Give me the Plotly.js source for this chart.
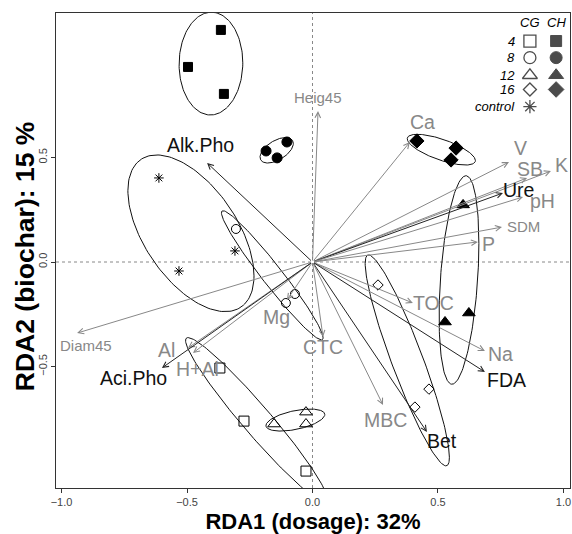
<!DOCTYPE html>
<html><head><meta charset="utf-8">
<script src="https://cdn.plot.ly/plotly-3.0.1.min.js"></script>
<style>html,body{margin:0;padding:0;background:#fff}#chart{width:572px;height:534px}</style>
</head><body><div id="chart"></div>
<script>
// ---- site scores (RDA1, RDA2) ----
const cg4X = [-0.369, -0.273, -0.026],  cg4Y = [-0.507, -0.761, -1.000];
const cg8X = [-0.305, -0.070, -0.106],  cg8Y = [0.158, -0.153, -0.196];
const cg12X = [-0.026, -0.026, -0.153], cg12Y = [-0.718, -0.775, -0.775];
const cg16X = [0.261, 0.464, 0.408],    cg16Y = [-0.110, -0.608, -0.694];
const ctrlX = [-0.612, -0.309, -0.532], ctrlY = [0.402, 0.053, -0.043];
const ch4X = [-0.365, -0.496, -0.353],  ch4Y = [1.110, 0.933, 0.804];
const ch8X = [-0.185, -0.102, -0.141],  ch8Y = [0.531, 0.574, 0.498];
const ch12X = [0.600, 0.528, 0.623],    ch12Y = [0.273, -0.287, -0.244];
const ch16X = [0.416, 0.572, 0.552],    ch16Y = [0.579, 0.545, 0.488];

// ---- environmental vectors (biplot arrow tips) ----
const envNames = ['Heig45','Alk.Pho','Ca','V','SB','K','Ure','pH','SDM','P','TOC','Na','FDA','Bet','MBC','CTC','Mg','Al','H+Al','Aci.Pho','Diam45'];
const envX = [0.022, -0.420, 0.388, 0.783, 0.855, 0.950, 0.759, 0.839, 0.755, 0.659, 0.400, 0.687, 0.687, 0.456, 0.281, 0.042, -0.102, -0.496, -0.476, -0.600, -0.938];
const envY = [0.722, 0.474, 0.574, 0.478, 0.402, 0.435, 0.330, 0.311, 0.167, 0.096, -0.196, -0.426, -0.526, -0.813, -0.684, -0.359, -0.182, -0.411, -0.435, -0.507, -0.340];

// legend
const legendRows = ['4', '8', '12', '16', 'control'];
const legendCols = ['CG', 'CH'];
const xTitle = 'RDA1 (dosage): 32%';
const yTitle = 'RDA2 (biochar): 15 %';

// ---- styling (not data) ----
const darkVars = ['Alk.Pho', 'Ure', 'FDA', 'Bet', 'Aci.Pho'];
const smallVars = ['Heig45', 'SDM', 'Diam45'];
const labelShift = { // pixel offsets of labels from arrow tips [dx, dy-up]
  'Heig45':[0,14], 'Alk.Pho':[-7,18], 'Ca':[13,20], 'V':[11,14], 'SB':[3,9], 'K':[11,6],
  'Ure':[16,3], 'pH':[19,-4], 'SDM':[22,1], 'P':[11,-2], 'TOC':[21,0], 'Na':[16,-3],
  'FDA':[22,-8], 'Bet':[15,-9], 'MBC':[2,-15], 'CTC':[0,-10], 'Mg':[-10,-17], 'Al':[-22,-2],
  'H+Al':[4,-16], 'Aci.Pho':[-28,-10], 'Diam45':[9,-12]
};
const GRAY = '#888888', DARK = '#111111';
const FONT = 'Liberation Sans, Arial, Helvetica, sans-serif';
const T = 1.6;

function ellipse(xs, ys, t) {
  const n = xs.length;
  const mx = xs.reduce((a, b) => a + b, 0) / n, my = ys.reduce((a, b) => a + b, 0) / n;
  let sxx = 0, syy = 0, sxy = 0;
  for (let i = 0; i < n; i++) { const dx = xs[i] - mx, dy = ys[i] - my; sxx += dx * dx; syy += dy * dy; sxy += dx * dy; }
  sxx /= (n - 1); syy /= (n - 1); sxy /= (n - 1);
  const a = Math.sqrt(sxx), b = sxy / a, c = Math.sqrt(Math.max(syy - b * b, 0));
  const ex = [], ey = [];
  for (let k = 0; k <= 160; k++) {
    const th = 2 * Math.PI * k / 160, co = Math.cos(th), si = Math.sin(th);
    ex.push(mx + t * a * co); ey.push(my + t * (b * co + c * si));
  }
  return { x: ex, y: ey };
}

const groups = [
  { x: cg4X, y: cg4Y, sym: 'square-open', size: 10 },
  { x: cg8X, y: cg8Y, sym: 'circle-open', size: 9 },
  { x: cg12X, y: cg12Y, sym: 'triangle-up-open', size: 11 },
  { x: cg16X, y: cg16Y, sym: 'diamond-open', size: 8 },
  { x: ctrlX, y: ctrlY, sym: 'asterisk-open', size: 8 },
  { x: ch4X, y: ch4Y, sym: 'square', size: 9 },
  { x: ch8X, y: ch8Y, sym: 'circle', size: 10 },
  { x: ch12X, y: ch12Y, sym: 'triangle-up', size: 11 },
  { x: ch16X, y: ch16Y, sym: 'diamond', size: 11 }
];

const traces = [];
groups.forEach(g => {
  const e = ellipse(g.x, g.y, T);
  traces.push({ x: e.x, y: e.y, mode: 'lines', line: { color: '#111', width: 1 }, hoverinfo: 'skip', showlegend: false });
});
groups.forEach(g => {
  traces.push({ x: g.x, y: g.y, mode: 'markers', showlegend: false,
    marker: { symbol: g.sym, size: g.size, color: '#000', line: { color: '#000', width: 1 } } });
});

// legend markers on overlay axes
const legSymCG = ['square-open', 'circle-open', 'triangle-up-open', 'diamond-open', 'asterisk-open'];
const legSymCH = ['square', 'circle', 'triangle-up', 'diamond'];
const legRowY = [0.941, 0.906, 0.869, 0.839, 0.803];
traces.push({ x: legSymCG.map(() => 0.922), y: legRowY, xaxis: 'x2', yaxis: 'y2', mode: 'markers', showlegend: false,
  marker: { symbol: legSymCG, size: [12, 12, 13, 10, 11], color: '#000', line: { color: '#000', width: 1.3 } } });
traces.push({ x: legSymCH.map(() => 0.973), y: legRowY.slice(0, 4), xaxis: 'x2', yaxis: 'y2', mode: 'markers', showlegend: false,
  marker: { symbol: legSymCH, size: [11, 12, 13, 12], color: '#000', line: { color: '#000', width: 1 } } });

const annotations = [];
envNames.forEach((nm, i) => {
  const dark = darkVars.includes(nm);
  annotations.push({ x: envX[i], y: envY[i], ax: 0, ay: 0, xref: 'x', yref: 'y', axref: 'x', ayref: 'y',
    text: '', showarrow: true, arrowhead: 5, arrowsize: 1.1, arrowwidth: 1, standoff: 0,
    arrowcolor: dark ? '#222' : GRAY });
});
envNames.forEach((nm, i) => {
  const dark = darkVars.includes(nm);
  const s = labelShift[nm];
  annotations.push({ x: envX[i], y: envY[i], xref: 'x', yref: 'y', text: nm, showarrow: false,
    xshift: s[0], yshift: s[1], xanchor: 'center', yanchor: 'middle',
    font: { family: FONT, size: smallVars.includes(nm) ? 15 : 19.5, color: dark ? DARK : GRAY } });
});
// legend text
legendCols.forEach((c, j) => {
  annotations.push({ x: j === 0 ? 0.922 : 0.973, y: 0.979, xref: 'paper', yref: 'paper', text: '<i>' + c + '</i>',
    showarrow: false, xanchor: 'center', yanchor: 'middle', font: { family: FONT, size: 13, color: '#000' } });
});
legendRows.forEach((r, i) => {
  annotations.push({ x: 0.896, y: legRowY[i], xref: 'paper', yref: 'paper', text: '<i>' + r + '</i>',
    showarrow: false, xanchor: 'right', yanchor: 'middle', font: { family: FONT, size: 13, color: '#000' } });
});
// y axis title
annotations.push({ x: -0.0603, y: 0.486, xref: 'paper', yref: 'paper', text: '<b>' + yTitle + '</b>', textangle: -90,
  showarrow: false, xanchor: 'center', yanchor: 'middle', font: { family: FONT, size: 26.5, color: '#000' } });

const layout = {
  width: 572, height: 534,
  margin: { l: 56, r: 2, t: 13, b: 46 },
  paper_bgcolor: '#fff', plot_bgcolor: '#fff',
  showlegend: false,
  font: { family: FONT },
  xaxis: {
    range: [-1.022, 1.026], tickvals: [-1, -0.5, 0, 0.5, 1], tickformat: '.1f',
    showgrid: false, zeroline: false, showline: true, mirror: true, linecolor: '#333', linewidth: 1,
    ticks: 'outside', ticklen: 4, tickcolor: '#333', tickfont: { size: 11, color: '#444', family: FONT },
    title: { text: xTitle, font: { size: 22, family: FONT, color: '#000', weight: 'bold' }, standoff: 8 }
  },
  yaxis: {
    range: [-1.081, 1.191], tickvals: [-0.5, 0, 0.5], tickformat: '.1f', tickangle: -90,
    showgrid: false, zeroline: false, showline: true, mirror: true, linecolor: '#333', linewidth: 1,
    ticks: 'outside', ticklen: 4, tickcolor: '#333', tickfont: { size: 11, color: '#444', family: FONT }
  },
  xaxis2: { overlaying: 'x', range: [0, 1], visible: false, fixedrange: true },
  yaxis2: { overlaying: 'y', range: [0, 1], visible: false, fixedrange: true },
  shapes: [
    { type: 'line', xref: 'x', yref: 'paper', x0: 0, x1: 0, y0: 0, y1: 1, layer: 'below', line: { color: GRAY, width: 1, dash: 'dot' } },
    { type: 'line', xref: 'paper', yref: 'y', x0: 0, x1: 1, y0: 0, y1: 0, layer: 'below', line: { color: GRAY, width: 1, dash: 'dot' } }
  ],
  annotations: annotations
};

Plotly.newPlot('chart', traces, layout, { displayModeBar: false, staticPlot: true });
</script></body></html>
